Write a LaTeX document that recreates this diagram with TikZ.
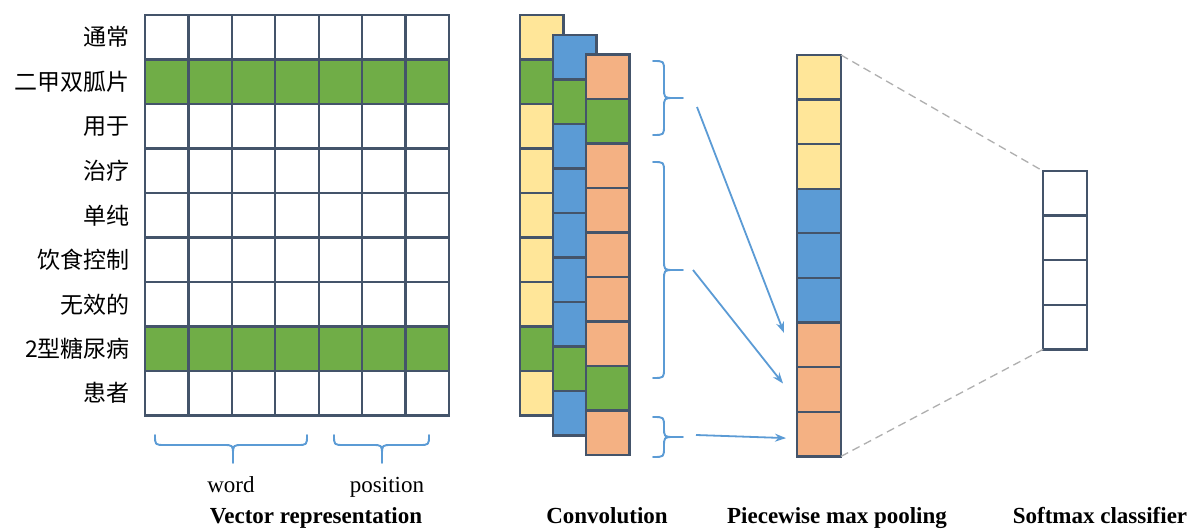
\documentclass[tikz,border=0pt]{standalone}
\usepackage{fontspec}
\setmainfont{Liberation Serif}
\newfontfamily\cjk{Noto Sans CJK SC}
\usetikzlibrary{calc,arrows.meta}
\definecolor{edgeC}{HTML}{44546A}
\definecolor{yelC}{HTML}{FFE699}
\definecolor{grnC}{HTML}{70AD47}
\definecolor{bluC}{HTML}{5B9BD5}
\definecolor{orgC}{HTML}{F4B183}
\definecolor{lnkC}{HTML}{5B9BD5}
\definecolor{dashC}{HTML}{AFAFAF}
\tikzset{
  cell/.style={draw=edgeC, line width=2.2pt, minimum width=43.4pt,
    minimum height=44.5pt, inner sep=0pt, outer sep=0pt, anchor=north west},
  bracepath/.style={draw=lnkC, line width=1.9pt, line cap=round, line join=round},
  link/.style={draw=lnkC, line width=1.8pt, -{Stealth[length=11pt,width=8pt]}},
  guide/.style={draw=dashC, line width=1.3pt, dash pattern=on 8pt off 5pt},
  wordlab/.style={font=\cjk\fontsize{23}{26}\selectfont, anchor=east, inner sep=0pt},
  sublab/.style={font=\fontsize{23}{26}\selectfont, anchor=base, inner sep=0pt},
  titlelab/.style={font=\bfseries\fontsize{23}{26}\selectfont, anchor=base, inner sep=0pt}
}
% vertical brace, tip to the right: x of ends, top, tip y, bottom, tip name
\newcommand\BraceV[5]{%
  \draw[bracepath] (#1,#2) .. controls ({#1+11},#2) .. ({#1+11},{#2+10})
    -- ({#1+11},{#3-10}) .. controls ({#1+11},#3) .. ({#1+21},#3) -- ({#1+30},#3)
    -- ({#1+21},#3) .. controls ({#1+11},#3) .. ({#1+11},{#3+10})
    -- ({#1+11},{#4-10}) .. controls ({#1+11},#4) .. (#1,#4);
  \coordinate (#5) at ({#1+30},#3);}
% horizontal brace, tip downwards: left x, tip x, right x, y of ends, tip name
\newcommand\BraceH[5]{%
  \draw[bracepath] (#1,#4) .. controls (#1,{#4+10}) .. ({#1+10},{#4+10})
    -- ({#2-10},{#4+10}) .. controls (#2,{#4+10}) .. (#2,{#4+20}) -- (#2,{#4+28})
    -- (#2,{#4+20}) .. controls (#2,{#4+10}) .. ({#2+10},{#4+10})
    -- ({#3-10},{#4+10}) .. controls (#3,{#4+10}) .. (#3,#4);
  \coordinate (#5) at (#2,{#4+28});}
\begin{document}
\begin{tikzpicture}[x=1pt,y=-1pt]
\fill[white] (0,0) rectangle (1194,529);
\useasboundingbox (0,0) rectangle (1194,529);

% word labels
\foreach \r/\t in {0/通常,1/二甲双胍片,2/用于,3/治疗,4/单纯,5/饮食控制,6/无效的,7/2型糖尿病,8/患者}
  \node[wordlab] (w\r) at (130,{15+44.5*(\r+0.5)}) {\t};

% vector representation grid
\foreach \r in {0,...,8}{
  \ifnum\r=1 \def\fc{grnC}\else\ifnum\r=7 \def\fc{grnC}\else\def\fc{white}\fi\fi
  \foreach \c in {0,...,6}
    \node[cell, minimum width=43.43pt, fill=\fc] (v-\r-\c) at ({145+43.43*\c},{15+44.5*\r}) {};
}

% convolution feature maps
\foreach \k/\x/\y/\col in {0/520/15/yelC,1/553/35/bluC,2/586/54.5/orgC}{
  \foreach \r in {0,...,8}{
    \ifnum\r=1 \def\fc{grnC}\else\ifnum\r=7 \def\fc{grnC}\else\def\fc{\col}\fi\fi
    \node[cell, fill=\fc] (c\k-\r) at (\x,{\y+44.5*\r}) {};
  }
}

% pooled vector
\foreach \r/\col in {0/yelC,1/yelC,2/yelC,3/bluC,4/bluC,5/bluC,6/orgC,7/orgC,8/orgC}
  \node[cell, minimum width=44pt, minimum height=44.6pt, fill=\col] (p\r) at (797,{55+44.6*\r}) {};

% softmax layer
\foreach \r in {0,...,3}
  \node[cell, minimum width=44pt, minimum height=44.6pt, fill=white] (s\r) at (1043,{171+44.6*\r}) {};

% segment braces
\BraceV{653}{61}{98}{135}{b1}
\BraceV{653}{162}{270}{378}{b2}
\BraceV{653}{417}{437}{457}{b3}
\BraceH{155}{233}{307}{435}{bw}
\BraceH{334}{382}{429}{435}{bp}

% arrows into the pooled vector
\coordinate (a1) at ($(b1)+(14,9)$);
\coordinate (a2) at ($(b2)+(10,0)$);
\coordinate (a3) at ($(b3)+(13,-2)$);
\coordinate (e1) at ($(p6.west)+(-13,-12)$);
\coordinate (e2) at ($(p7.west)+(-14,-6)$);
\coordinate (e3) at ($(p8.west)+(-11,4)$);
\draw[link] (a1) -- (e1);
\draw[link] (a2) -- (e2);
\draw[link] (a3) -- (e3);

% projection lines to the classifier
\draw[guide] (p0.north east) -- (s0.north west);
\draw[guide] (p8.south east) -- (s3.south west);

% captions
\node[sublab] (lw) at (231,492) {word};
\node[sublab] (lp) at (387,492) {position};
\node[titlelab] (t1) at (316,523) {Vector representation};
\node[titlelab] (t2) at (607,523) {Convolution};
\node[titlelab] (t3) at (837,523) {Piecewise max pooling};
\node[titlelab] (t4) at (1100,523) {Softmax classifier};
\end{tikzpicture}
\end{document}
